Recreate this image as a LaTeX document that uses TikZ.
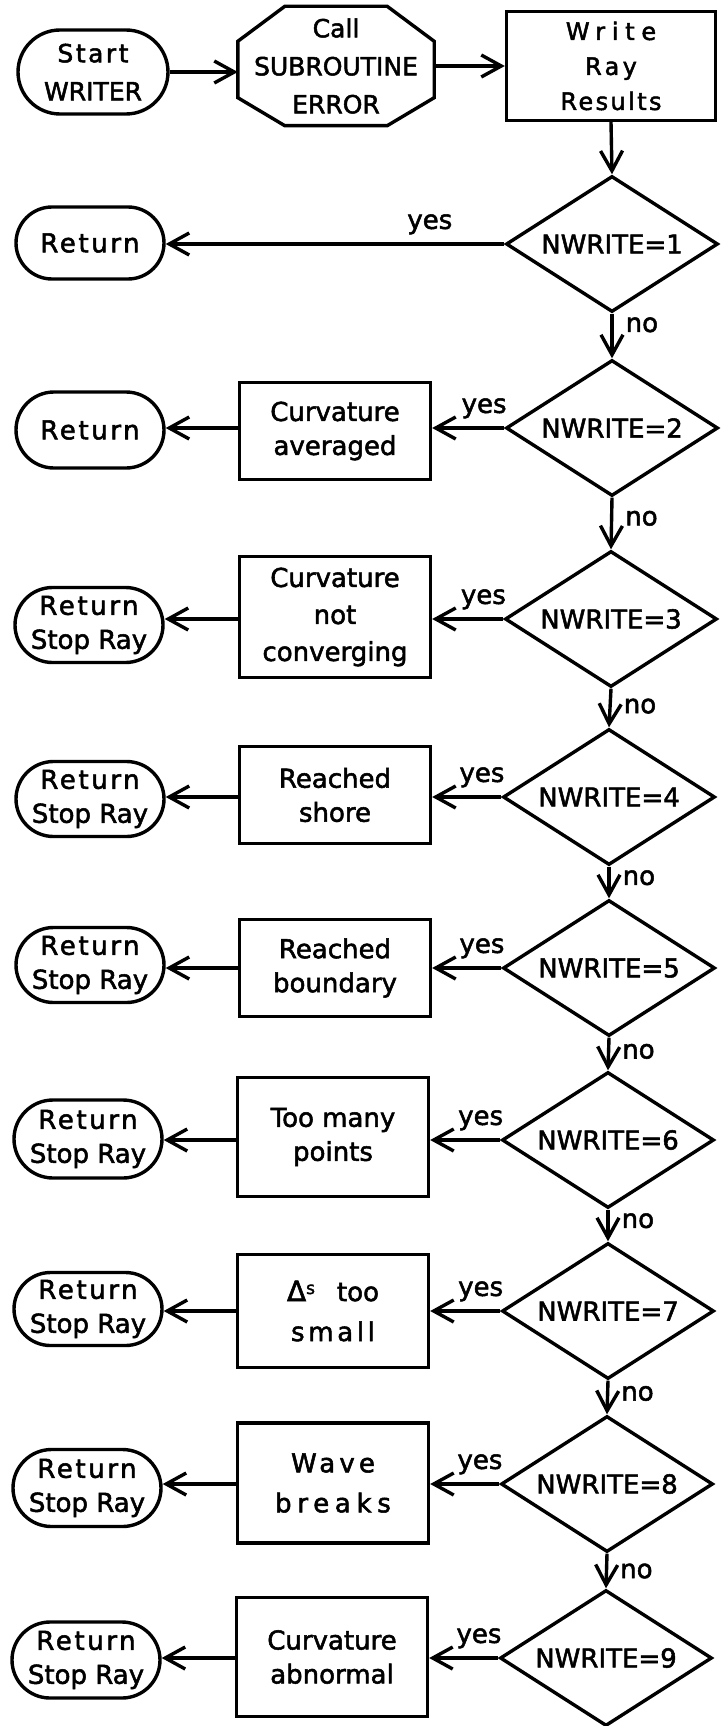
\documentclass[tikz,border=0pt]{standalone}
\usepackage{fontspec}
\setmainfont{DejaVu Sans}[FakeBold=2]
\usetikzlibrary{arrows.meta,shapes.geometric,shapes.misc}

% letter-spaced text: \ls{amount}{text}
\newcommand\ls[2]{{\addfontfeature{LetterSpace=#1}#2}}

\begin{document}
\begin{tikzpicture}[x=1pt,y=-1pt,line width=3.4pt,
  base/.style={draw, inner sep=0pt, align=center, font=\fontsize{26}{34}\selectfont},
  terminal/.style={base, rounded rectangle, minimum width=148pt, minimum height=75pt},
  process/.style={base, rectangle, minimum width=191pt},
  decision/.style={base, diamond, aspect=1.56, minimum width=212pt, minimum height=136pt},
  flow/.style={-{Straight Barb[length=20pt,width=22pt]}},
  lbl/.style={font=\fontsize{26}{30}\selectfont, inner sep=2pt},
  yeslbl/.style={lbl, above=6pt},
  nolbl/.style={lbl, right=10pt}
]
\useasboundingbox (0,0) rectangle (723,1726);

% ---------- top row ----------
\node[terminal, minimum width=150pt, minimum height=84pt, font=\fontsize{25}{38}\selectfont]
  (start) at (93,72) {\ls{10}{Start}\\WRITER};
\node[inner sep=0pt, minimum width=193pt, minimum height=116pt, align=center,
      font=\fontsize{25}{38}\selectfont] (oct) at (336,66) {Call\\SUBROUTINE\\ERROR};
\draw ([xshift=47pt]oct.north west) -- ([xshift=-47pt]oct.north east)
   -- ([yshift=-35pt]oct.north east) -- ([yshift=28pt]oct.south east)
   -- ([xshift=-47pt]oct.south east) -- ([xshift=47pt]oct.south west)
   -- ([yshift=28pt]oct.south west) -- ([yshift=-35pt]oct.north west) -- cycle;
\node[process, minimum width=209pt, minimum height=109pt, font=\fontsize{24}{35}\selectfont]
  (wr) at (611,66) {\ls{28}{Write}\hspace{14pt}\\\ls{14}{Ray}\\\ls{10}{Results}};

\draw[flow] (start.east) -- (start.east -| oct.west);
\draw[flow] (oct.east) -- (oct.east -| wr.west);

% ---------- decisions ----------
\node[decision] (d1) at (612,244)  {NWRITE=1};
\node[decision] (d2) at (612,428)  {NWRITE=2};
\node[decision] (d3) at (611,619)  {NWRITE=3};
\node[decision] (d4) at (609,797)  {NWRITE=4};
\node[decision] (d5) at (609,968)  {NWRITE=5};
\node[decision] (d6) at (608,1140) {NWRITE=6};
\node[decision] (d7) at (608,1311) {NWRITE=7};
\node[decision] (d8) at (607,1484) {NWRITE=8};
\node[decision] (d9) at (606,1658) {NWRITE=9};

% ---------- actions ----------
\node[process, minimum height=97pt]  (b2) at (335,431)  {Curvature\\averaged};
\node[process, minimum height=121pt, font=\fontsize{26}{37}\selectfont]
  (b3) at (335,617)  {Curvature\\not\\converging};
\node[process, minimum height=97pt]  (b4) at (335,795)  {Reached\\shore};
\node[process, minimum height=97pt]  (b5) at (335,968)  {Reached\\boundary};
\node[process, minimum height=119pt] (b6) at (333,1137) {Too many\\points};
\node[process, minimum height=113pt, font=\fontsize{26}{40}\selectfont]
  (b7) at (333,1311) {{\fontsize{28}{28}\selectfont Δ}\raisebox{7pt}{\fontsize{17}{17}\selectfont s}\hspace{22pt}too\\\ls{14}{small}};
\node[process, minimum height=120pt, font=\fontsize{26}{40}\selectfont]
  (b8) at (333,1483) {\ls{16}{Wave}\hspace{10pt}\\\ls{22}{breaks}};
\node[process, minimum height=119pt] (b9) at (332,1657) {Curvature\\abnormal};

% ---------- terminals ----------
\node[terminal, minimum height=72pt] (r1) at (90,243)  {\ls{10}{Return}};
\node[terminal, minimum height=76pt] (r2) at (90,430)  {\ls{10}{Return}};
\node[terminal] (r3) at (89,625)  {\ls{10}{Return}\\Stop Ray};
\node[terminal] (r4) at (90,799)  {\ls{10}{Return}\\Stop Ray};
\node[terminal] (r5) at (90,965)  {\ls{10}{Return}\\Stop Ray};
\node[terminal, minimum height=78pt] (r6) at (88,1139) {\ls{10}{Return}\\Stop Ray};
\node[terminal, minimum height=73pt] (r7) at (88,1309) {\ls{10}{Return}\\Stop Ray};
\node[terminal, minimum height=77pt] (r8) at (87,1488) {\ls{10}{Return}\\Stop Ray};
\node[terminal, minimum height=76pt] (r9) at (86,1660) {\ls{10}{Return}\\Stop Ray};

% ---------- "no" chain ----------
\draw[flow] (wr.south) -- (d1.north);
\draw[flow] (d1.south) -- node[nolbl, pos=0.25] {no} (d2.north);
\draw[flow] (d2.south) -- node[nolbl, pos=0.4] {no} (d3.north);
\draw[flow] (d3.south) -- node[nolbl, pos=0.45] {no} (d4.north);
\draw[flow] (d4.south) -- node[nolbl, pos=0.35] {no} (d5.north);
\draw[flow] (d5.south) -- node[nolbl, pos=0.42] {no} (d6.north);
\draw[flow] (d6.south) -- node[nolbl, pos=0.35] {no} (d7.north);
\draw[flow] (d7.south) -- node[nolbl, pos=0.38] {no} (d8.north);
\draw[flow] (d8.south) -- node[nolbl, pos=0.5] {no} (d9.north);

% ---------- "yes" branches ----------
\draw[flow] (d1.west) -- node[yeslbl, pos=0.22] {yes} (d1.west -| r1.east);
\foreach \i in {2,...,9}{
  \draw[flow] (d\i.west) -- node[yeslbl, pos=0.28] {yes} (d\i.west -| b\i.east);
  \draw[flow] (d\i.west -| b\i.west) -- (d\i.west -| r\i.east);
}
\end{tikzpicture}
\end{document}
